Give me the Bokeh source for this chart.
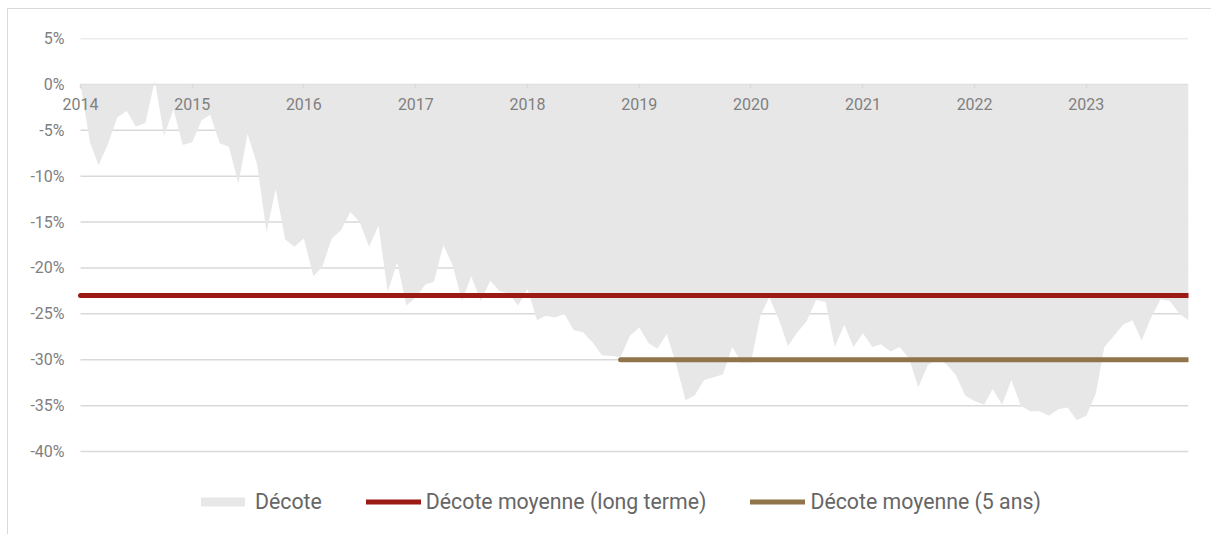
import pandas as pd
from bokeh.plotting import figure
from bokeh.models import (Range1d, FixedTicker, NumeralTickFormatter, DatetimeTickFormatter,
                          Legend, LegendItem)
from bokeh.embed import file_html
from bokeh.resources import INLINE

# ---------------- data ----------------
first_month = "2014-01-01"
decote_pct = [
    0.0, -6.3, -8.8, -6.5, -3.6, -2.9, -4.6, -4.2, 0.4, -5.6, -2.7, -6.6,
    -6.3, -3.9, -3.3, -6.4, -6.8, -10.8, -5.4, -8.7, -16.1, -11.4, -16.9, -17.7,
    -16.8, -20.9, -19.9, -16.8, -15.9, -13.9, -15.0, -17.7, -15.4, -22.6, -19.4, -24.1,
    -23.2, -21.8, -21.5, -17.5, -19.7, -23.6, -20.9, -23.6, -21.4, -22.5, -22.8, -24.1,
    -22.3, -25.7, -25.2, -25.4, -25.0, -26.8, -27.0, -28.1, -29.5, -29.6, -29.7, -27.4,
    -26.5, -28.2, -28.8, -27.2, -30.4, -34.4, -33.9, -32.2, -31.9, -31.6, -28.6, -30.3,
    -30.3, -25.2, -23.2, -25.6, -28.5, -27.0, -25.8, -23.5, -23.7, -28.6, -26.2, -28.6,
    -27.1, -28.6, -28.3, -29.1, -28.6, -29.9, -33.0, -30.6, -29.8, -30.5, -31.7, -33.9,
    -34.5, -34.9, -33.2, -34.9, -32.2, -35.0, -35.6, -35.6, -36.1, -35.4, -35.2, -36.6,
    -36.1, -33.7, -28.6, -27.4, -26.2, -25.7, -27.9, -25.4, -23.4, -23.6, -25.0, -25.7,
]
moyenne_long_terme_pct = -23.0
moyenne_5ans_pct = -30.0
debut_5ans = "2018-11-01"
year_labels = [2014, 2015, 2016, 2017, 2018, 2019, 2020, 2021, 2022, 2023]
y_tick_pct = [5, 0, -5, -10, -15, -20, -25, -30, -35, -40]

series_names = ["Décote", "Décote moyenne (long terme)", "Décote moyenne (5 ans)"]
colors = ["#e7e7e7", "#9b1b14", "#8f7549"]

# ---------------- derived ----------------
dates = pd.date_range(first_month, periods=len(decote_pct), freq="MS")
decote = [v / 100 for v in decote_pct]
five_dates = [d for d in dates if d >= pd.Timestamp(debut_5ans)]
x_lt = [dates[0], dates[-1]]
y_lt = [moyenne_long_terme_pct / 100] * 2
x_5a = [five_dates[0], five_dates[-1]]
y_5a = [moyenne_5ans_pct / 100] * 2
y_ticks = [v / 100 for v in y_tick_pct]

FONT = "Roboto"
GRID = "#d9d9d9"
TXT = "#808080"

# layout (pixels)
W, H = 1211, 534
LEFT, RIGHT, TOP = 60, 23, 38
PAD_X = 20                    # room left of the first month for the "2014" label
data_px = W - LEFT - RIGHT - PAD_X
span = dates[-1] - dates[0]
x_start = dates[0] - span * PAD_X / data_px

p = figure(width=W, height=H, x_axis_type="datetime",
           output_backend="svg", toolbar_location=None,
           x_range=Range1d(x_start, dates[-1]),
           y_range=Range1d(-0.4904, 0.05),
           min_border_left=LEFT, min_border_right=RIGHT,
           min_border_top=TOP, min_border_bottom=0)
p.outline_line_color = None
p.background_fill_color = "white"
p.border_fill_color = "white"
p.border_fill_alpha = 0
p.styles = {
    "background": ("linear-gradient(#d9d9d9,#d9d9d9) 7px 8px / 1px 100% no-repeat, "
                   "linear-gradient(#d9d9d9,#d9d9d9) 7px 8px / 100% 1px no-repeat, white"),
}

# horizontal grid lines, spanning the data period
p.segment(x0=[dates[0]] * len(y_ticks), x1=[dates[-1]] * len(y_ticks),
          y0=y_ticks, y1=y_ticks, line_color=GRID, line_width=1.5, level="underlay")

r_area = p.varea(x=dates, y1=0, y2=decote, fill_color=colors[0])
r_lt = p.line(x=x_lt, y=y_lt, line_color=colors[1], line_width=5, line_cap="round")
r_5a = p.line(x=x_5a, y=y_5a, line_color=colors[2], line_width=5, line_cap="round")

# x axis at 0%
xa = p.xaxis[0]
xa.fixed_location = 0
xa.ticker = FixedTicker(ticks=[pd.Timestamp(f"{y}-01-01").value // 10**6 for y in year_labels])
xa.formatter = DatetimeTickFormatter(years="%Y", months="%Y", days="%Y", hours="%Y")
xa.axis_line_color = None
xa.major_tick_line_color = GRID
xa.major_tick_line_width = 1.5
xa.major_tick_out = 4
xa.major_tick_in = 0
xa.minor_tick_line_color = None
xa.major_label_text_font = FONT
xa.major_label_text_font_size = "16px"
xa.major_label_text_color = TXT
xa.major_label_standoff = 10

ya = p.yaxis[0]
ya.ticker = FixedTicker(ticks=y_ticks)
ya.formatter = NumeralTickFormatter(format="0%")
ya.axis_line_color = None
ya.major_tick_line_color = None
ya.minor_tick_line_color = None
ya.major_tick_out = 0
ya.major_tick_in = 0
ya.major_label_text_font = FONT
ya.major_label_text_font_size = "16px"
ya.major_label_text_color = TXT
ya.major_label_standoff = -4

p.xgrid.visible = False
p.ygrid.visible = False

legend = Legend(items=[LegendItem(label=series_names[0], renderers=[r_area]),
                       LegendItem(label=series_names[1], renderers=[r_lt]),
                       LegendItem(label=series_names[2], renderers=[r_5a])],
                orientation="horizontal", location=(135, 20),
                glyph_width=55, glyph_height=11, label_standoff=5, spacing=44,
                label_text_font=FONT, label_text_font_size="21.3px",
                label_text_color="#666666", border_line_color=None,
                background_fill_alpha=0, padding=0, margin=0)
p.add_layout(legend, "center")

open("out.html", "w").write(file_html(p, INLINE))
